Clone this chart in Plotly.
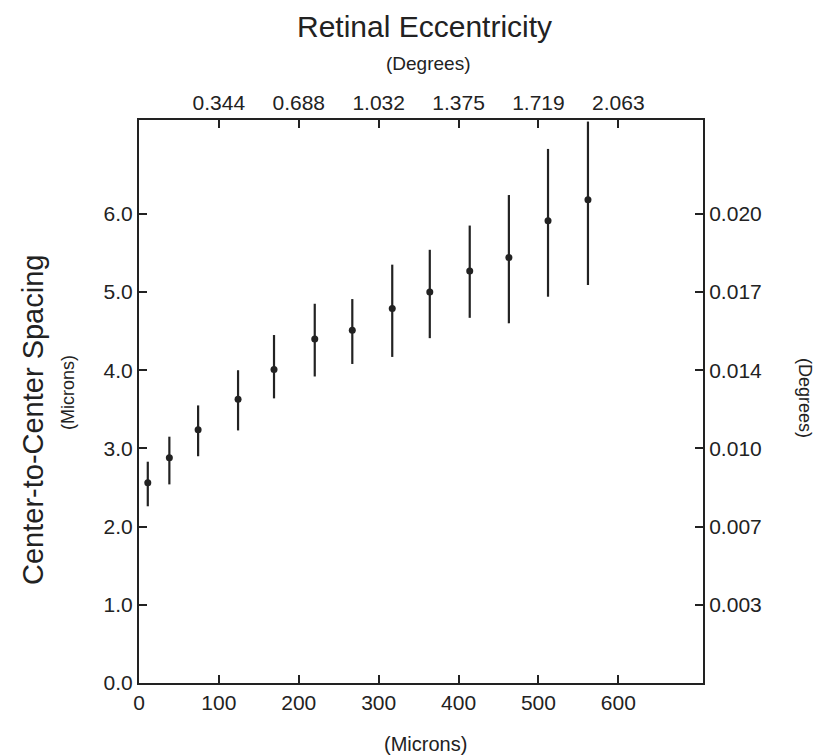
import plotly.graph_objects as go

# Dados
eccentricity_microns = [11, 38, 74, 124, 169, 220, 267, 317, 364, 414, 463, 512, 562]
spacing_microns = [2.56, 2.88, 3.24, 3.63, 4.01, 4.40, 4.51, 4.79, 5.00, 5.27, 5.44, 5.91, 6.18]
err_plus = [0.27, 0.27, 0.31, 0.37, 0.44, 0.45, 0.40, 0.56, 0.54, 0.58, 0.80, 0.92, 1.00]
err_minus = [0.30, 0.34, 0.34, 0.40, 0.37, 0.48, 0.43, 0.62, 0.59, 0.60, 0.84, 0.97, 1.09]

# Eixos
bottom_ticks = [0, 100, 200, 300, 400, 500, 600]
top_ticks = [100, 200, 300, 400, 500, 600]
top_labels = ['0.344', '0.688', '1.032', '1.375', '1.719', '2.063']
left_ticks = [0, 1, 2, 3, 4, 5, 6]
left_labels = ['0.0', '1.0', '2.0', '3.0', '4.0', '5.0', '6.0']
right_ticks = [1, 2, 3, 4, 5, 6]
right_labels = ['0.003', '0.007', '0.010', '0.014', '0.017', '0.020']

ink = '#222222'
font = 'Liberation Sans, Arial, sans-serif'
W, H = 818, 755
L, R, T, B = 139, 115, 120, 72

fig = go.Figure()
fig.add_trace(go.Scatter(
    x=eccentricity_microns, y=spacing_microns, mode='markers',
    marker=dict(color=ink, size=7),
    error_y=dict(type='data', symmetric=False, array=err_plus, arrayminus=err_minus,
                 color=ink, thickness=2.2, width=0),
    showlegend=False,
))
# traço invisível para os eixos de cima e da direita
fig.add_trace(go.Scatter(x=[None], y=[None], xaxis='x2', yaxis='y2', showlegend=False))

axis_style = dict(showgrid=False, zeroline=False, showline=True, linecolor=ink, linewidth=2,
                  ticks='inside', ticklen=8, tickwidth=1.5, tickcolor=ink,
                  tickfont=dict(family=font, size=21, color=ink))

fig.update_layout(
    width=W, height=H,
    margin=dict(l=L, r=R, t=T, b=B, autoexpand=False),
    paper_bgcolor='white', plot_bgcolor='white',
    xaxis=dict(range=[0, 706], tickvals=bottom_ticks, **axis_style),
    xaxis2=dict(range=[0, 706], overlaying='x', side='top', tickvals=top_ticks,
                ticktext=top_labels, **axis_style),
    yaxis=dict(range=[0, 7.2], tickvals=left_ticks, ticktext=left_labels, **axis_style),
    yaxis2=dict(range=[0, 7.2], overlaying='y', side='right', tickvals=right_ticks,
                ticktext=right_labels, **axis_style),
)

# textos (posição em pixels da figura)
annotations = [
    dict(text='Retinal Eccentricity', x=424, y=27, size=30, angle=0),
    dict(text='(Degrees)', x=428, y=63, size=19, angle=0),
    dict(text='Center-to-Center Spacing', x=33, y=420, size=29, angle=-90),
    dict(text='(Microns)', x=68, y=393, size=18, angle=-90),
    dict(text='(Degrees)', x=805, y=398, size=18, angle=90),
    dict(text='(Microns)', x=425, y=744, size=20, angle=0),
]
for a in annotations:
    px = (a['x'] - L) / (W - L - R)
    py = 1 - (a['y'] - T) / (H - T - B)
    fig.add_annotation(text=a['text'], x=px, y=py, xref='paper', yref='paper',
                       showarrow=False, textangle=a['angle'],
                       xanchor='center', yanchor='middle',
                       font=dict(family=font, size=a['size'], color=ink))

fig.write_html('out.html', config={'displayModeBar': False},
               post_script="document.body.style.margin='0';")
